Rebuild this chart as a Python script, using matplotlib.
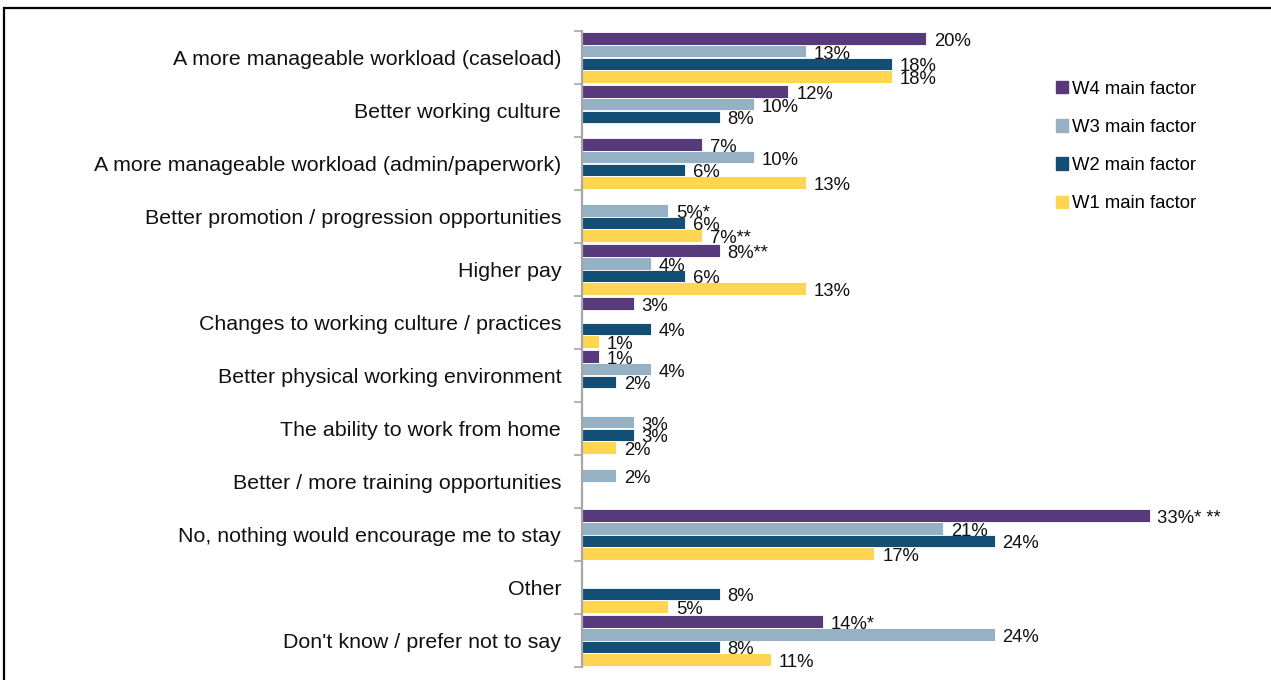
import matplotlib
matplotlib.use("Agg")
import matplotlib.pyplot as plt
import matplotlib.patches as mpatches
import numpy as np

plt.rcParams["font.family"] = ["Liberation Sans", "DejaVu Sans"]

# ── Data ──────────────────────────────────────────────────────────────────────
categories = [
    "A more manageable workload (caseload)",
    "Better working culture",
    "A more manageable workload (admin/paperwork)",
    "Better promotion / progression opportunities",
    "Higher pay",
    "Changes to working culture / practices",
    "Better physical working environment",
    "The ability to work from home",
    "Better / more training opportunities",
    "No, nothing would encourage me to stay",
    "Other",
    "Don't know / prefer not to say",
]

w4 = [20, 12, 7, None, 8, 3, 1, None, None, 33, None, 14]
w3 = [13, 10, 10, 5, 4, None, 4, 3, 2, 21, None, 24]
w2 = [18, 8, 6, 6, 6, 4, 2, 3, None, 24, 8, 8]
w1 = [18, None, 13, 7, 13, 1, None, 2, None, 17, 5, 11]

# significance markers appended to labels
w4_marks = ["", "", "", "", "**", "", "", "", "", "* **", "", "*"]
w3_marks = ["", "", "", "*", "", "", "", "", "", "", "", ""]
w2_marks = [""] * 12
w1_marks = ["", "", "", "**", "", "", "", "", "", "", "", ""]

series_names = ["W4 main factor", "W3 main factor", "W2 main factor", "W1 main factor"]
series_vals = [w4, w3, w2, w1]
series_marks = [w4_marks, w3_marks, w2_marks, w1_marks]
COLORS = ["#573A7B", "#95B1C3", "#134F74", "#FFD551"]

# ── Figure ────────────────────────────────────────────────────────────────────
W, H = 1271, 680
fig = plt.figure(figsize=(W / 100, H / 100), dpi=100)

# outer frame
fig.patches.append(mpatches.Rectangle((4 / W, -0.05), 1.2, 1 - 8 / H + 0.05,
                                      transform=fig.transFigure, fill=False,
                                      edgecolor="black", linewidth=1.6))

ax = fig.add_axes([582 / W, 1 - 667 / H, 688 / W, 636 / H])

n = len(categories)
bar_h = 0.236
centers = np.arange(n)
for k, (vals, marks, color) in enumerate(zip(series_vals, series_marks, COLORS)):
    offs = (k - 1.5) * bar_h
    for i, (v, m) in enumerate(zip(vals, marks)):
        if v is None:
            continue
        y = centers[i] + offs
        ax.barh(y, v, height=bar_h, color=color, edgecolor="white", linewidth=0.6)
        ax.text(v + 0.45, y + 0.06, f"{v}%{m}", va="center", ha="left",
                fontsize=13.3, color="#111111")

ax.set_ylim(n - 0.5, -0.5)
ax.set_xlim(0, 40)

# category labels centred on each group, ticks on group boundaries
ax.set_yticks(np.arange(-0.5, n, 1.0))
ax.set_yticklabels([])
ax.set_yticks(centers, minor=True)
ax.set_yticklabels(categories, minor=True, fontsize=15.4, color="#111111")
ax.tick_params(axis="y", which="minor", length=0, pad=15)
ax.tick_params(axis="y", which="major", length=6, width=1.2, color="#A6A6A6")
ax.set_xticks([])

for s in ["top", "right", "bottom"]:
    ax.spines[s].set_visible(False)
ax.spines["left"].set_color("#A6A6A6")
ax.spines["left"].set_linewidth(1.6)

handles = [mpatches.Patch(color=c, label=l) for c, l in zip(COLORS, series_names)]
fig.legend(handles=handles, loc="upper left", bbox_to_anchor=(1039 / W, 1 - 64 / H),
           frameon=False, fontsize=13.3, handlelength=0.65, handleheight=0.65,
           handletextpad=0.25, labelspacing=1.15)

fig.savefig("out.png", dpi=100)
